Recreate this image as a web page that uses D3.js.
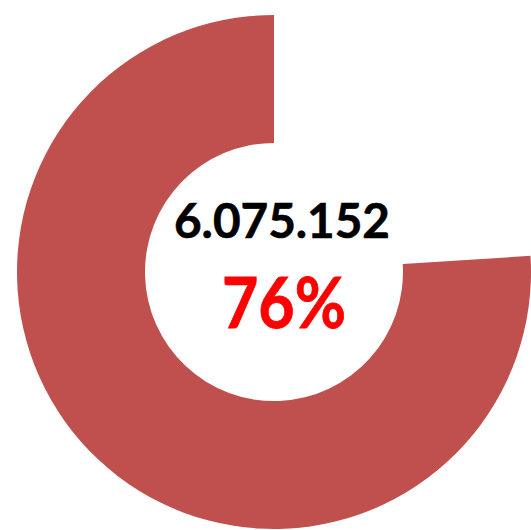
<!DOCTYPE html>
<html>
<head>
<meta charset="utf-8">
<script src="https://cdn.jsdelivr.net/npm/d3@7"></script>
<style>
  html, body { margin: 0; padding: 0; background: #fff; }
  svg { display: block; }
</style>
</head>
<body>
<svg id="chart" width="531" height="530"></svg>
<script>
// Share of the total that has been reached, and the remainder
const categories = ["Remaining", "Reached"];
const shares = [24, 76];
const sliceColors = ["#ffffff", "#C0504D"];
const totalLabel = "6.075.152";
const percentLabel = "76%";

const svg = d3.select("#chart");
const cx = 274, cy = 272;
const outerR = 257, innerR = 129;

const pie = d3.pie().sort(null).value(d => d);
const arc = d3.arc().innerRadius(innerR).outerRadius(outerR);

const g = svg.append("g").attr("transform", `translate(${cx},${cy})`);

g.selectAll("path")
  .data(pie(shares))
  .join("path")
  .attr("d", arc)
  .attr("fill", (d, i) => sliceColors[i]);

// Centre labels
svg.append("text")
  .attr("x", cx + 8).attr("y", 238)
  .attr("text-anchor", "middle")
  .attr("font-family", "Lato, 'Open Sans', sans-serif")
  .attr("font-weight", "bold")
  .attr("font-size", 47)
  .attr("textLength", 216)
  .attr("lengthAdjust", "spacingAndGlyphs")
  .attr("fill", "#000")
  .attr("stroke", "#000")
  .attr("stroke-width", 0.6)
  .text(totalLabel);

svg.append("text")
  .attr("x", cx + 10).attr("y", 328)
  .attr("text-anchor", "middle")
  .attr("font-family", "Lato, 'Open Sans', sans-serif")
  .attr("font-weight", "bold")
  .attr("font-size", 70)
  .attr("textLength", 124)
  .attr("lengthAdjust", "spacingAndGlyphs")
  .attr("fill", "#FF0000")
  .attr("stroke", "#FF0000")
  .attr("stroke-width", 0.8)
  .text(percentLabel);
</script>
</body>
</html>
